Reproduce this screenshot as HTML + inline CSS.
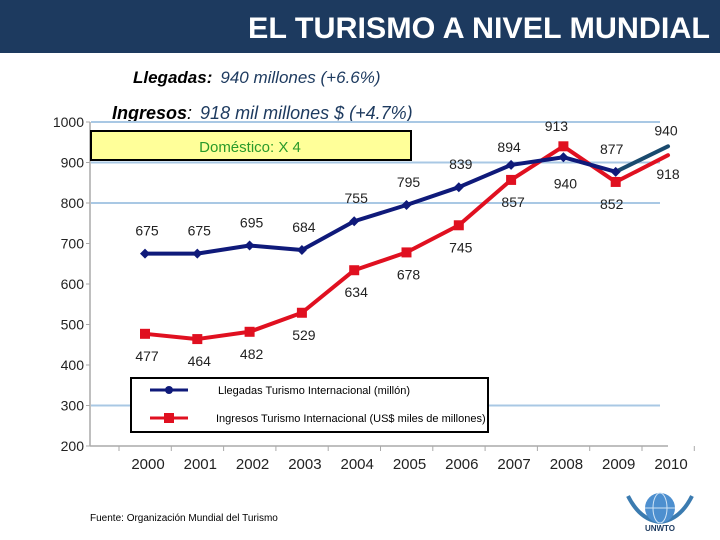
<!DOCTYPE html>
<html><head><meta charset="utf-8"><style>
body{margin:0;width:720px;height:540px;overflow:hidden;background:#fff;font-family:"Liberation Sans",sans-serif}
svg{position:absolute;left:0;top:0}
</style></head><body>
<svg width="720" height="540" id="c">
<rect x="0" y="0" width="720" height="53" fill="#1d3a5f"/>
<text x="710" y="38" text-anchor="end" fill="#fff" font-weight="bold" font-size="30" textLength="462" lengthAdjust="spacingAndGlyphs">EL TURISMO A NIVEL MUNDIAL</text>
<text x="133" y="83" font-style="italic" font-size="17"><tspan font-weight="bold" fill="#000">Llegadas:</tspan><tspan fill="#1d3a5f" dx="8">940 millones (+6.6%)</tspan></text>
<text x="112" y="119" font-style="italic" font-size="18"><tspan font-weight="bold" fill="#000">Ingresos</tspan><tspan fill="#000">:</tspan><tspan fill="#1d3a5f" dx="8">918 mil millones $ (+4.7%)</tspan></text>
<g id="grid"></g>
<rect x="91" y="131" width="320" height="29" fill="#ffff99" stroke="#000" stroke-width="2"/>
<text x="250" y="152" text-anchor="middle" fill="#2a9a2a" font-size="15">Doméstico: X 4</text>
<g id="marks"></g>
<rect x="131" y="378" width="357" height="54" fill="#fff" stroke="#000" stroke-width="2"/>
<line x1="150" y1="390" x2="188" y2="390" stroke="#0f1a7a" stroke-width="3"/>
<circle cx="169" cy="390" r="4" fill="#0f1a7a"/>
<text x="218" y="394" font-size="11">Llegadas Turismo Internacional (millón)</text>
<line x1="150" y1="418" x2="188" y2="418" stroke="#e01020" stroke-width="3"/>
<rect x="164" y="413" width="10" height="10" fill="#e01020"/>
<text x="216" y="422" font-size="11">Ingresos Turismo Internacional (US$ miles de millones)</text>
<text x="90" y="521" font-size="10">Fuente: Organización Mundial del Turismo</text>
<g>
<path d="M628 496 Q640 520 660 522 Q680 520 692 496" fill="none" stroke="#3b7bb0" stroke-width="4"/>
<circle cx="660" cy="508" r="15" fill="#4d8fcf"/>
<ellipse cx="660" cy="508" rx="7" ry="15" fill="none" stroke="#cfe3f5" stroke-width="1"/>
<line x1="645" y1="508" x2="675" y2="508" stroke="#cfe3f5"/>
<text x="660" y="531" text-anchor="middle" font-size="8" font-weight="bold" fill="#1d3a5f">UNWTO</text>
</g>
</svg>
<script>
const years=["2000","2001","2002","2003","2004","2005","2006","2007","2008","2009","2010"];
const arrivals=[675,675,695,684,755,795,839,894,913,877,940];
const receipts=[477,464,482,529,634,678,745,857,940,852,918];
const yTicks=[200,300,400,500,600,700,800,900,1000];
const gridTicks=[300,800,900,1000];
const NS="http://www.w3.org/2000/svg";
const X=i=>145+i*52.3;
const Y=v=>446-(v-200)*0.405;
const grid=document.getElementById('grid'),marks=document.getElementById('marks');
function mk(tag,attrs,parent,txt){const e=document.createElementNS(NS,tag);for(const k in attrs)e.setAttribute(k,attrs[k]);if(txt!==undefined)e.textContent=txt;parent.appendChild(e);return e;}
gridTicks.forEach(t=>{const l=mk('line',{x1:91,x2:660,y1:Y(t),y2:Y(t),stroke:'#a9c8e4','stroke-width':2},grid);

});
let a=mk('line',{x1:90,x2:90,y1:Y(1000),y2:Y(200),stroke:'#aaa','stroke-width':1.5},grid);


a=mk('line',{x1:90,x2:668,y1:Y(200),y2:Y(200),stroke:'#aaa','stroke-width':1.5},grid);


yTicks.forEach(t=>{const e=mk('text',{x:84,y:Y(t)+5,'text-anchor':'end','font-size':14,fill:'#222'},grid,String(t));


mk('line',{x1:86,x2:90,y1:Y(t),y2:Y(t),stroke:'#aaa'},grid);});
years.forEach((y,i)=>{const e=mk('text',{x:X(i)+3,y:469,'text-anchor':'middle','font-size':15,fill:'#222'},grid,y);


mk('line',{x1:X(i)-26,x2:X(i)-26,y1:446,y2:451,stroke:'#aaa'},grid);});
mk('line',{x1:X(10)-26+52.3,x2:X(10)-26+52.3,y1:446,y2:451,stroke:'#aaa'},grid);
function series(vals,color,lastColor,name,marker){
 const pts=vals.map((v,i)=>X(i)+','+Y(v));
 const p=mk('polyline',{points:pts.slice(0,10).join(' '),fill:'none',stroke:color,'stroke-width':4,'stroke-linejoin':'round'},marks);
 
 
 const l=mk('line',{x1:X(9),y1:Y(vals[9]),x2:X(10),y2:Y(vals[10]),stroke:lastColor,'stroke-width':4,'stroke-linecap':'round'},marks);
 
 
 vals.slice(0,10).forEach((v,i)=>{let m;
  if(marker==='d'){m=mk('path',{d:`M${X(i)-5},${Y(v)} L${X(i)},${Y(v)-5} L${X(i)+5},${Y(v)} L${X(i)},${Y(v)+5}Z`,fill:color},marks);}
  else{m=mk('rect',{x:X(i)-5,y:Y(v)-5,width:10,height:10,fill:color},marks);}
  
  });
}
series(receipts,'#e01020','#e01020','receipts','s');
series(arrivals,'#0f1a7a','#1a4a6e','arrivals','d');
function labels(vals,name,dy,special){
 vals.forEach((v,i)=>{let x=X(i)+2,y=Y(v)+dy;
  if(special[i]){x=special[i][0];y=special[i][1];}
  const t=mk('text',{x:x,y:y+5,'text-anchor':'middle','font-size':14,fill:'#222'},marks,String(v));
  
  });
}
labels(arrivals,'arrivals',-23,{7:[X(7)-2,Y(arrivals[7])-18],8:[X(8)-7,Y(arrivals[8])-31],9:[X(9)-4,Y(arrivals[9])-23],10:[X(10)-2,Y(arrivals[10])-16]});
labels(receipts,'receipts',22,{8:[X(8)+2,Y(receipts[8])+37],9:[X(9)-4,Y(receipts[9])+22],10:[X(10)+X(0)-145,Y(receipts[10])+19]});
</script>
</body></html>
